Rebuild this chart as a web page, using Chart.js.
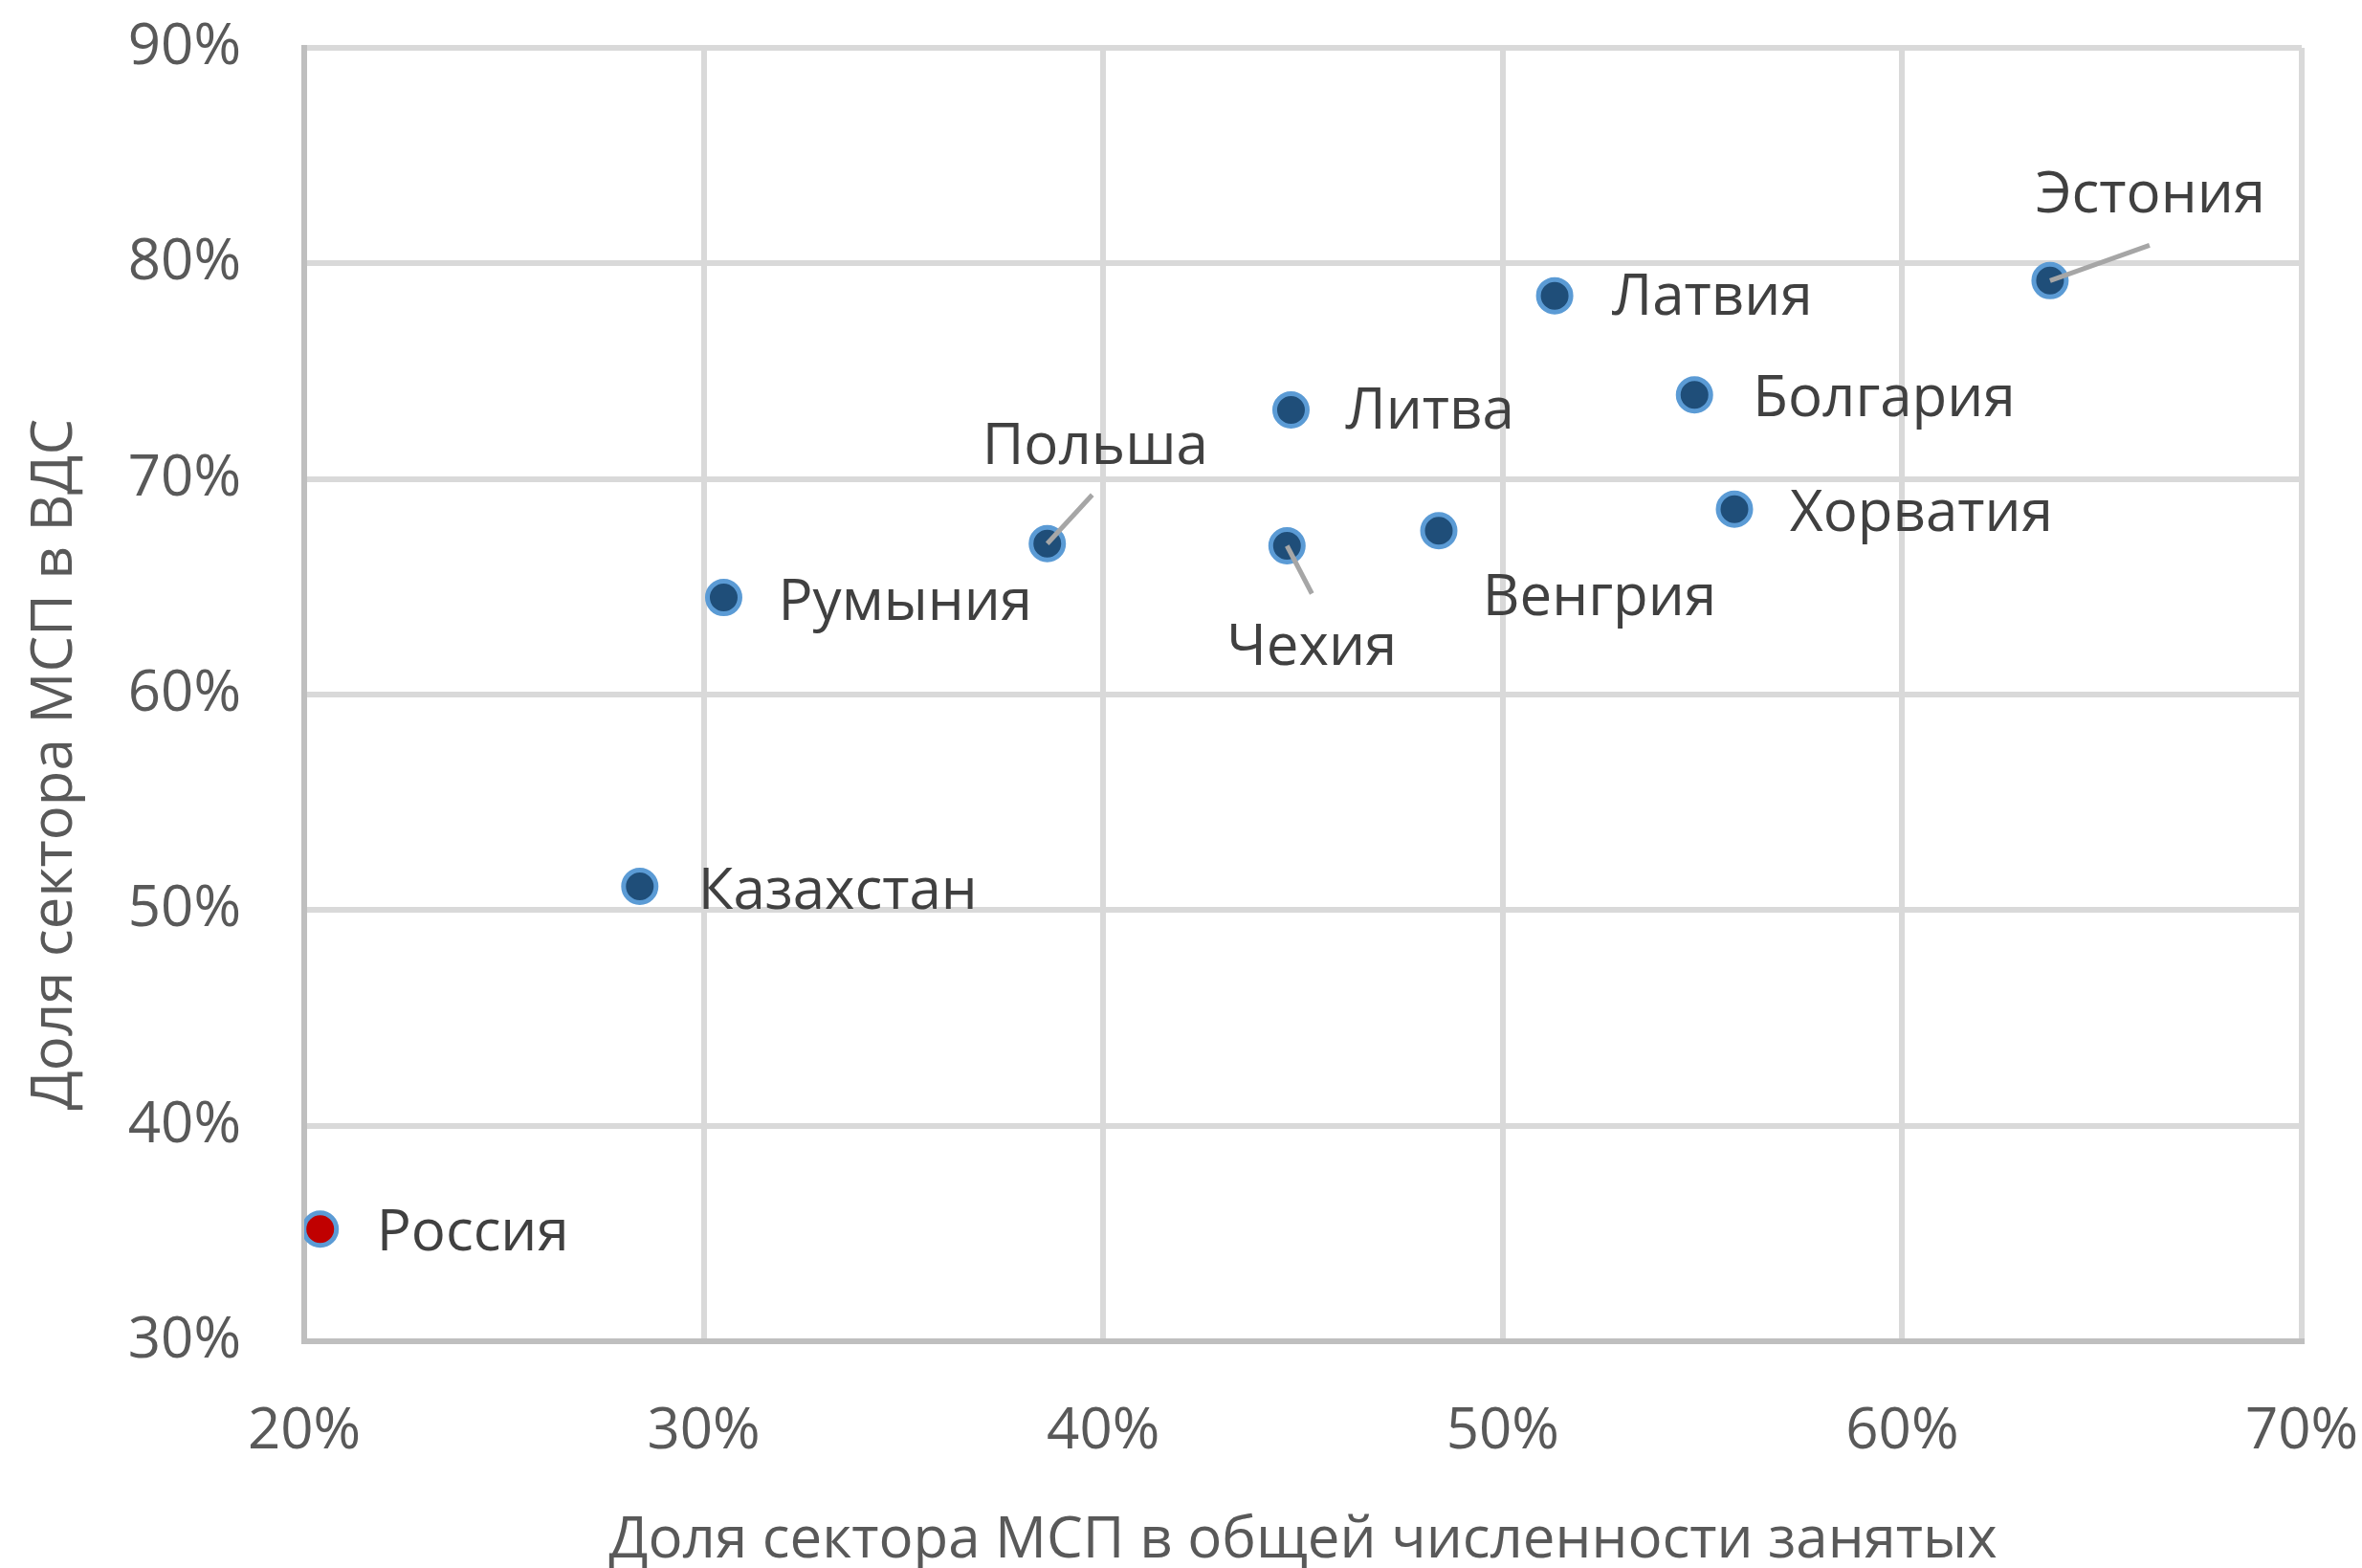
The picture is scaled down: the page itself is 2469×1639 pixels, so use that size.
<!DOCTYPE html>
<html>
<head>
<meta charset="utf-8">
<script src="https://cdn.jsdelivr.net/npm/chart.js@4/dist/chart.umd.min.js"></script>
<style>
  html, body { margin: 0; padding: 0; background: #fff; }
  #wrap { width: 2469px; height: 1639px; }
</style>
</head>
<body>
<div id="wrap"><canvas id="myChart" width="2469" height="1639"></canvas></div>
<script>
// data
var countries = ['Россия', 'Казахстан', 'Румыния', 'Польша', 'Чехия', 'Литва', 'Венгрия', 'Латвия', 'Болгария', 'Хорватия', 'Эстония'];
var employmentShare = [20.4, 28.4, 30.5, 38.6, 44.6, 44.7, 48.4, 51.3, 54.8, 55.8, 63.7];
var gvaShare = [35.2, 51.1, 64.5, 67.0, 66.9, 73.2, 67.6, 78.5, 73.9, 68.6, 79.2];
var xTicks = [20, 30, 40, 50, 60, 70];
var yTicks = [30, 40, 50, 60, 70, 80, 90];
var yTitle = 'Доля сектора МСП в ВДС';

// label placement: [dx, dy, align, leaderDx, leaderDy]
var labelPlace = {
    'Россия':    [59, 5, 'left'],
    'Казахстан': [61, 6, 'left'],
    'Румыния':   [57, 6, 'left'],
    'Польша':    [50, -100, 'center', 47, -51],
    'Чехия':     [26, 107, 'center', 26, 50],
    'Литва':     [57, 2, 'left'],
    'Венгрия':   [168, 71, 'center'],
    'Латвия':    [60, 3, 'left'],
    'Болгария':  [61, 5, 'left'],
    'Хорватия':  [58, 6, 'left'],
    'Эстония':   [105, -88, 'center', 104, -37]
};

var FONT = '"Open Sans", "Noto Sans", sans-serif';

var points = countries.map(function (c, i) {
    return { x: employmentShare[i], y: gvaShare[i] };
});

// fixed plot box, ignore label overflow
function noOverflow(s) {
    s.paddingTop = 0;
    s.paddingBottom = 0;
    s.paddingLeft = 0;
    s.paddingRight = 0;
}

var pointLabels = {
    id: 'pointLabels',
    afterDatasetsDraw: function (chart) {
        var ctx = chart.ctx;
        var meta = chart.getDatasetMeta(0);
        ctx.save();
        meta.data.forEach(function (el, i) {
            var p = labelPlace[countries[i]];
            if (p[3] !== undefined) {
                ctx.strokeStyle = '#a6a6a6';
                ctx.lineWidth = 5;
                ctx.beginPath();
                ctx.moveTo(el.x, el.y);
                ctx.lineTo(el.x + p[3], el.y + p[4]);
                ctx.stroke();
            }
        });
        ctx.fillStyle = '#404040';
        ctx.font = '60px ' + FONT;
        ctx.textBaseline = 'middle';
        meta.data.forEach(function (el, i) {
            var p = labelPlace[countries[i]];
            ctx.textAlign = p[2];
            ctx.fillText(countries[i], el.x + p[0], el.y + p[1]);
        });

        // y axis title sits a bit lower than the plot middle in the original
        ctx.translate(58, 799);
        ctx.rotate(-Math.PI / 2);
        ctx.fillStyle = '#595959';
        ctx.textAlign = 'center';
        ctx.fillText(yTitle, 0, 0);
        ctx.restore();
    }
};

var ctx = document.getElementById('myChart').getContext('2d');
var chart = new Chart(ctx, {
    type: 'scatter',
    data: {
        datasets: [{
            data: points,
            backgroundColor: countries.map(function (c) { return c === 'Россия' ? '#c00000' : '#1f4e79'; }),
            borderColor: '#5b9bd5',
            borderWidth: 5,
            pointRadius: 17,
            pointHoverRadius: 17
        }]
    },
    options: {
        responsive: false,
        animation: false,
        layout: { padding: { top: 50, right: 63, left: 0, bottom: 0 } },
        plugins: {
            legend: { display: false },
            tooltip: { enabled: false }
        },
        scales: {
            x: {
                type: 'linear',
                min: 20, max: 70,
                afterFit: function (s) { s.height = 237; noOverflow(s); },
                afterBuildTicks: function (s) { s.ticks = xTicks.map(function (v) { return { value: v }; }); },
                grid: { color: '#d9d9d9', lineWidth: 6, drawTicks: false },
                border: { color: '#bfbfbf', width: 6 },
                ticks: {
                    padding: 59,
                    color: '#595959',
                    font: { family: FONT, size: 60 },
                    callback: function (v) { return v + '%'; }
                },
                title: {
                    display: true,
                    text: 'Доля сектора МСП в общей численности занятых',
                    color: '#595959',
                    font: { family: FONT, size: 60, lineHeight: 1.2 },
                    padding: { top: 0, bottom: -8 }
                }
            },
            y: {
                type: 'linear',
                min: 30, max: 90,
                afterFit: function (s) { s.width = 318; noOverflow(s); },
                afterBuildTicks: function (s) { s.ticks = yTicks.map(function (v) { return { value: v }; }); },
                grid: { color: '#d9d9d9', lineWidth: 6, drawTicks: false },
                border: { color: '#bfbfbf', width: 6 },
                ticks: {
                    padding: 66,
                    color: '#595959',
                    font: { family: FONT, size: 60 },
                    callback: function (v) { return v + '%'; }
                }
            }
        }
    },
    plugins: [pointLabels]
});
</script>
</body>
</html>
